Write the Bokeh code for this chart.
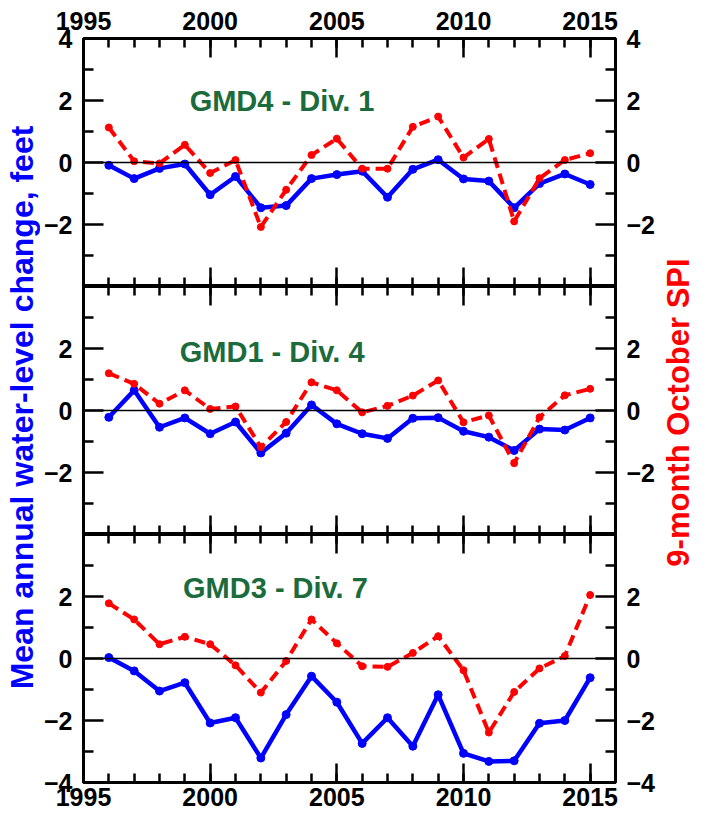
import math
from bokeh.plotting import figure
from bokeh.layouts import row, column
from bokeh.models import FixedTicker, LinearAxis, Range1d, Span, Label
from bokeh.embed import file_html
from bokeh.resources import INLINE

years = list(range(1996, 2016))

gmd4_water = [-0.09, -0.52, -0.19, -0.05, -1.04, -0.45, -1.46, -1.39, -0.52, -0.39,
              -0.28, -1.12, -0.22, 0.09, -0.53, -0.60, -1.46, -0.68, -0.37, -0.71]
gmd4_spi = [1.13, 0.04, -0.03, 0.57, -0.34, 0.08, -2.08, -0.88, 0.24, 0.77,
            -0.20, -0.20, 1.15, 1.48, 0.16, 0.76, -1.90, -0.51, 0.08, 0.30]

gmd1_water = [-0.22, 0.65, -0.54, -0.24, -0.75, -0.37, -1.37, -0.73, 0.18, -0.43,
              -0.75, -0.90, -0.25, -0.23, -0.67, -0.86, -1.29, -0.60, -0.63, -0.24]
gmd1_spi = [1.20, 0.86, 0.22, 0.65, 0.05, 0.13, -1.18, -0.37, 0.91, 0.65,
            -0.06, 0.15, 0.48, 0.97, -0.38, -0.16, -1.70, -0.22, 0.49, 0.70]

gmd3_water = [0.03, -0.40, -1.05, -0.78, -2.08, -1.91, -3.21, -1.81, -0.57, -1.41,
              -2.74, -1.91, -2.83, -1.17, -3.06, -3.32, -3.30, -2.09, -2.00, -0.62]
gmd3_spi = [1.78, 1.26, 0.46, 0.70, 0.46, -0.22, -1.10, -0.08, 1.26, 0.49,
            -0.25, -0.27, 0.18, 0.72, -0.38, -2.39, -1.08, -0.32, 0.08, 2.05]

panel_names = ["GMD4 - Div. 1", "GMD1 - Div. 4", "GMD3 - Div. 7"]
x_major = [1995, 2000, 2005, 2010, 2015]
x_minor = list(range(1995, 2017))
y_minor = [-3, -1, 1, 3]
y_major_sets = [[-2, 0, 2, 4], [-2, 0, 2], [-4, -2, 0, 2]]

FONT = "Liberation Sans"
BLUE = "#0000ff"
RED = "#ff0000"
GREEN = "#1b6b3d"

BL, BR = 41, 35
FRAME_W, FRAME_H = 542, 248
FIG_W = BL + FRAME_W + BR


def style_tick_axis(ax, major_in, minor_in):
    ax.axis_line_color = None
    ax.major_tick_in = major_in
    ax.major_tick_out = 0
    ax.minor_tick_in = minor_in
    ax.minor_tick_out = 0
    ax.major_tick_line_width = 2.5
    ax.minor_tick_line_width = 2.5
    ax.major_tick_line_color = "black"
    ax.minor_tick_line_color = "black"
    ax.major_label_text_font = FONT
    ax.major_label_text_font_style = "bold"
    ax.major_label_text_font_size = "25px"
    ax.major_label_text_color = "black"


def labeled_x_axis(side):
    ax = LinearAxis(ticker=FixedTicker(ticks=x_major, minor_ticks=x_minor))
    style_tick_axis(ax, 19, 9)
    ax.major_label_standoff = 9 if side == "above" else 5
    return ax


def bare_x_axes():
    a = LinearAxis(ticker=FixedTicker(ticks=[], minor_ticks=x_minor))
    style_tick_axis(a, 19, 9)
    a.major_label_standoff = 0
    b = LinearAxis(ticker=FixedTicker(ticks=[], minor_ticks=x_major))
    style_tick_axis(b, 19, 19)
    b.major_label_standoff = 0
    return [a, b]


def y_axis(ticks):
    ax = LinearAxis(ticker=FixedTicker(ticks=ticks, minor_ticks=y_minor))
    style_tick_axis(ax, 20, 10)
    ax.major_label_standoff = 11
    return ax


def make_panel(i, water, spi, label_x, label_y, top_labels, bottom_labels, b_top, b_bottom):
    p = figure(width=FIG_W, height=FRAME_H + b_top + b_bottom,
               x_range=Range1d(1995, 2016), y_range=Range1d(-4, 4),
               x_axis_location=None, y_axis_location=None,
               output_backend="svg", toolbar_location=None,
               min_border_left=BL, min_border_right=BR,
               min_border_top=b_top, min_border_bottom=b_bottom)
    p.xgrid.visible = False
    p.ygrid.visible = False
    p.outline_line_color = "black"
    p.outline_line_width = 3
    p.background_fill_color = "white"
    p.border_fill_color = "white"

    if top_labels:
        p.add_layout(labeled_x_axis("above"), "above")
    else:
        for a in bare_x_axes():
            p.add_layout(a, "above")
    if bottom_labels:
        p.add_layout(labeled_x_axis("below"), "below")
    else:
        for a in bare_x_axes():
            p.add_layout(a, "below")
    p.add_layout(y_axis(y_major_sets[i]), "left")
    p.add_layout(y_axis(y_major_sets[i]), "right")

    p.add_layout(Span(location=0, dimension="width", line_color="black", line_width=1.5))

    p.line(years, water, line_color=BLUE, line_width=4.5)
    p.scatter(years, water, size=8, fill_color=BLUE, line_color=BLUE)
    p.line(years, spi, line_color=RED, line_width=4, line_dash="11 6")
    p.scatter(years, spi, size=7, fill_color=RED, line_color=RED)

    p.add_layout(Label(x=label_x, y=label_y, text=panel_names[i],
                       text_font=FONT, text_font_style="bold", text_font_size="29px",
                       text_color=GREEN, text_align="left", text_baseline="alphabetic"))
    return p


f1 = make_panel(0, gmd4_water, gmd4_spi, 1999.19, 2.0, True, False, 38, 0)
f2 = make_panel(1, gmd1_water, gmd1_spi, 1998.8, 1.9, False, False, 0, 0)
f3 = make_panel(2, gmd3_water, gmd3_spi, 1998.93, 2.27, False, True, 0, 34)

TOTAL_H = 816


def label_fig(w, text, color, x, y, size):
    p = figure(width=w, height=TOTAL_H, x_range=Range1d(0, 1), y_range=Range1d(0, 1),
               x_axis_location=None, y_axis_location=None,
               output_backend="svg", toolbar_location=None,
               min_border=0)
    p.xgrid.visible = False
    p.ygrid.visible = False
    p.outline_line_color = None
    p.add_layout(Label(x=x, y=y, x_units="screen", y_units="screen", text=text,
                       angle=math.pi / 2, text_align="center", text_baseline="middle",
                       text_font=FONT, text_font_style="bold", text_font_size=size,
                       text_color=color))
    return p


left = label_fig(40, "Mean annual water-level change, feet", BLUE, 21, TOTAL_H - (415 - 8), "32px")
right = label_fig(38, "9-month October SPI", RED, 20, TOTAL_H - (420 - 8), "31px")

layout = row(left, column(f1, f2, f3), right)

with open("out.html", "w") as fh:
    fh.write(file_html(layout, INLINE))
